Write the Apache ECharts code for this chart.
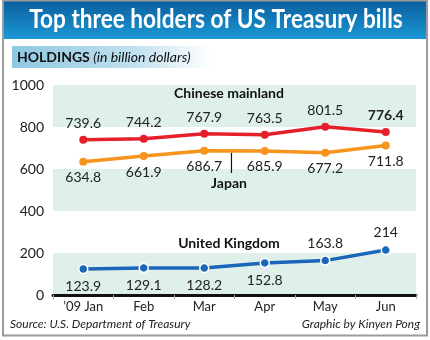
<!DOCTYPE html>
<html><head><meta charset="utf-8">
<script src="https://cdn.jsdelivr.net/npm/echarts@6/dist/echarts.min.js"></script>
<style>html,body{margin:0;padding:0;background:#fff}#c{width:430px;height:340px}</style>
</head><body><div id="c"></div>
<script>
const categories = ['’09 Jan', 'Feb', 'Mar', 'Apr', 'May', 'Jun'];
const china = [739.6, 744.2, 767.9, 763.5, 801.5, 776.4];
const japan = [634.8, 661.9, 686.7, 685.9, 677.2, 711.8];
const uk = [123.9, 129.1, 128.2, 152.8, 163.8, 214];
const ukLabelPos = ['bottom', 'bottom', 'bottom', 'bottom', 'top', 'top'];
const yTicks = [0, 200, 400, 600, 800, 1000];

const FONT = 'Lato, "Open Sans", sans-serif';
const chart = echarts.init(document.getElementById('c'), null, {renderer: 'canvas'});

const labelStyle = {show: true, fontSize: 14, color: '#222', fontFamily: FONT, distance: 5};

const option = {
  animation: false,
  backgroundColor: '#fff',
  grid: {left: 53, right: 14, top: 85, bottom: 45},
  xAxis: {
    type: 'category', data: categories, boundaryGap: true,
    axisLine: {lineStyle: {color: '#111', width: 3}},
    axisTick: {show: true, length: 4, lineStyle: {color: '#aaa', width: 1}},
    axisLabel: {fontSize: 13, color: '#222', fontFamily: FONT, margin: 5}
  },
  yAxis: {
    type: 'value', min: yTicks[0], max: yTicks[yTicks.length - 1], interval: 200,
    axisLine: {show: false}, axisTick: {show: false},
    splitLine: {show: false},
    splitArea: {show: true, areaStyle: {color: ['#dff0ea', '#ffffff']}},
    axisLabel: {fontSize: 14, color: '#222', fontFamily: FONT, margin: 9, formatter: v => String(v)}
  },
  series: [
    {
      name: 'Chinese mainland', type: 'line', data: china.map((v, i) => i === china.length - 1 ? {value: v, label: {fontWeight: 'bold'}} : v),
      symbol: 'circle', symbolSize: 8,
      lineStyle: {color: '#e5202b', width: 3.5}, itemStyle: {color: '#e5202b'},
      label: Object.assign({}, labelStyle, {position: 'top'})
    },
    {
      name: 'Japan', type: 'line', data: japan,
      symbol: 'circle', symbolSize: 8,
      lineStyle: {color: '#f7941d', width: 3.5}, itemStyle: {color: '#f7941d'},
      label: Object.assign({}, labelStyle, {position: 'bottom'})
    },
    {
      name: 'United Kingdom', type: 'line',
      data: uk.map((v, i) => ({value: v, label: {position: ukLabelPos[i]}})),
      symbol: 'circle', symbolSize: 9,
      lineStyle: {color: '#1a66b8', width: 3.5},
      itemStyle: {color: '#1a66b8', borderColor: '#fff', borderWidth: 1.5},
      label: Object.assign({}, labelStyle)
    }
  ],
  graphic: []
};
chart.setOption(option);

// annotations
const leaderX = chart.convertToPixel({xAxisIndex: 0}, 2) + 0.45 * (chart.convertToPixel({xAxisIndex: 0}, 3) - chart.convertToPixel({xAxisIndex: 0}, 2));
const leaderTop = chart.convertToPixel({yAxisIndex: 0}, japan[2] + 0.45 * (japan[3] - japan[2])) + 2;

chart.setOption({graphic: [
  {type: 'rect', z: 100, shape: {x: 3, y: 0, width: 424, height: 39},
   style: {fill: new echarts.graphic.LinearGradient(0, 0, 0, 1, [{offset: 0, color: '#0b5d9c'}, {offset: 1, color: '#1b98d6'}])}},
  {type: 'text', z: 101, x: 216, y: 20, scaleX: 0.87, originX: 0, style: {text: 'Top three holders of US Treasury bills', fill: '#fff', font: 'bold 26px ' + FONT, textAlign: 'center', textVerticalAlign: 'middle'}},
  {type: 'rect', z: 100, shape: {x: 12, y: 46, width: 200, height: 22},
   style: {fill: new echarts.graphic.LinearGradient(0, 0, 1, 0, [{offset: 0, color: '#8ec8e2'}, {offset: 0.6, color: '#bfe0ee'}, {offset: 1, color: '#ffffff'}])}},
  {type: 'text', z: 101, x: 17, y: 57, style: {
    text: '{b|HOLDINGS} {i|(in billion dollars)}', textVerticalAlign: 'middle',
    rich: {b: {fontWeight: 'bold', fontSize: 14, fontFamily: FONT, fill: '#111', color: '#111'},
           i: {fontStyle: 'italic', fontSize: 14, fontFamily: FONT, fill: '#111', color: '#111'}}}},
  {type: 'text', z: 101, x: 229, y: 93, style: {text: 'Chinese mainland', font: 'bold 14px ' + FONT, fill: '#111', textAlign: 'center', textVerticalAlign: 'middle'}},
  {type: 'text', z: 101, x: 229, y: 183, style: {text: 'Japan', font: 'bold 14px ' + FONT, fill: '#111', textAlign: 'center', textVerticalAlign: 'middle'}},
  {type: 'line', z: 101, shape: {x1: leaderX, y1: leaderTop, x2: leaderX, y2: 173}, style: {stroke: '#111', lineWidth: 1.2}},
  {type: 'text', z: 101, x: 229, y: 243, style: {text: 'United Kingdom', font: 'bold 14px ' + FONT, fill: '#111', textAlign: 'center', textVerticalAlign: 'middle'}},
  {type: 'text', z: 101, x: 10, y: 324, style: {text: 'Source: U.S. Department of Treasury', font: 'italic 12px ' + FONT, fill: '#222', textVerticalAlign: 'middle'}},
  {type: 'text', z: 101, x: 420, y: 324, style: {text: 'Graphic by Kinyen Pong', font: 'italic 12px ' + FONT, fill: '#222', textAlign: 'right', textVerticalAlign: 'middle'}},
  {type: 'rect', z: 102, shape: {x: 3, y: 0.5, width: 424, height: 335}, style: {fill: 'none', stroke: '#9c9c9c', lineWidth: 2}}
]});
</script></body></html>
